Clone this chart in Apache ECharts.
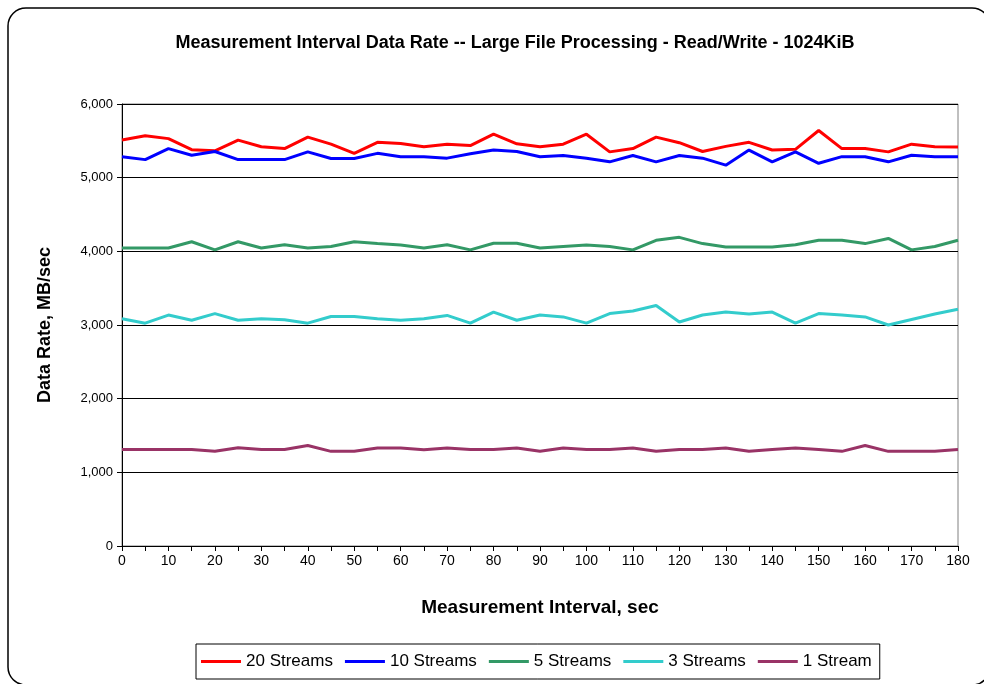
<!DOCTYPE html>
<html>
<head>
<meta charset="utf-8">
<title>Measurement Interval Data Rate</title>
<script src="https://cdn.jsdelivr.net/npm/echarts@6/dist/echarts.min.js"></script>
<style>
  html, body { margin: 0; padding: 0; background: #fff; }
  #chart { width: 984px; height: 684px; }
</style>
</head>
<body>
<div id="chart"></div>
<script>
// x axis: measurement interval (sec), one sample every 5 sec
const intervals = ['0', '5', '10', '15', '20', '25', '30', '35', '40', '45', '50', '55', '60', '65', '70', '75', '80', '85', '90',
  '95', '100', '105', '110', '115', '120', '125', '130', '135', '140', '145', '150', '155', '160', '165', '170', '175', '180']

// data rate, MB/sec
const streams20 = [5510, 5570, 5530, 5380, 5365, 5510, 5420, 5395, 5550, 5455, 5330, 5480, 5465, 5420, 5455, 5435, 5590, 5460, 5420,
  5455, 5590, 5350, 5395, 5550, 5475, 5355, 5425, 5480, 5375, 5385, 5640, 5395, 5395, 5350, 5455, 5420, 5415]
const streams10 = [5285, 5245, 5395, 5305, 5355, 5245, 5245, 5245, 5350, 5260, 5260, 5330, 5285, 5285, 5265, 5325, 5375, 5355, 5285,
  5300, 5265, 5215, 5300, 5215, 5300, 5265, 5170, 5375, 5215, 5350, 5195, 5285, 5285, 5215, 5305, 5285, 5285]
const streams5 = [4045, 4045, 4045, 4130, 4020, 4130, 4045, 4090, 4045, 4065, 4130, 4105, 4085, 4045, 4090, 4020, 4110, 4110, 4045,
  4065, 4085, 4065, 4020, 4150, 4190, 4105, 4060, 4060, 4060, 4090, 4150, 4150, 4105, 4175, 4020, 4065, 4150]
const streams3 = [3085, 3025, 3135, 3065, 3155, 3065, 3085, 3070, 3025, 3115, 3115, 3085, 3065, 3085, 3130, 3025, 3175, 3065, 3135,
  3110, 3025, 3155, 3190, 3265, 3040, 3135, 3175, 3150, 3175, 3025, 3155, 3135, 3110, 3000, 3075, 3150, 3215]
const streams1 = [1310, 1310, 1310, 1310, 1285, 1335, 1310, 1310, 1365, 1285, 1285, 1330, 1330, 1305, 1330, 1310, 1310, 1330, 1285,
  1330, 1310, 1310, 1330, 1285, 1310, 1310, 1330, 1285, 1310, 1330, 1310, 1285, 1365, 1285, 1285, 1285, 1310]

const seriesNames = ['20 Streams', '10 Streams', '5 Streams', '3 Streams', '1 Stream']
const seriesColors = ['#ff0000', '#0000ff', '#339966', '#33cccc', '#993366']
const seriesData = [streams20, streams10, streams5, streams3, streams1]

const font = 'Arial, "Liberation Sans", sans-serif'

const chart = echarts.init(document.getElementById('chart'))

const option = {
  backgroundColor: '#fff',
  animation: false,
  textStyle: { fontFamily: font, color: '#000' },
  title: {
    text: 'Measurement Interval Data Rate -- Large File Processing - Read/Write - 1024KiB',
    left: 510,
    textAlign: 'center',
    top: 29,
    textStyle: { fontFamily: font, fontSize: 18, fontWeight: 'bold', color: '#000' }
  },
  // rounded outer frame of the chart sheet
  graphic: [{
    type: 'rect',
    silent: true,
    z: -1,
    shape: { x: 8, y: 8, width: 982, height: 677, r: 18 },
    style: { fill: 'none', stroke: '#000', lineWidth: 1.5 }
  }],
  grid: {
    left: 122,
    right: 26,
    top: 104,
    bottom: 138,
    show: true,
    borderColor: '#808080',
    borderWidth: 1
  },
  legend: {
    data: seriesNames,
    left: 196,
    top: 644,
    padding: [9, 8, 9, 5],
    borderColor: '#000',
    borderWidth: 1,
    icon: 'rect',
    itemWidth: 40,
    itemHeight: 3,
    itemGap: 12,
    textStyle: { fontFamily: font, fontSize: 17, color: '#000' }
  },
  xAxis: {
    type: 'category',
    data: intervals,
    boundaryGap: false,
    name: 'Measurement Interval, sec',
    nameLocation: 'middle',
    nameGap: 52,
    nameTextStyle: { fontFamily: font, fontSize: 19, fontWeight: 'bold', color: '#000' },
    axisLine: { lineStyle: { color: '#000', width: 1 } },
    axisTick: { show: true, interval: 0, length: 5, lineStyle: { color: '#000' } },
    axisLabel: { interval: 1, fontSize: 14, color: '#000', margin: 8 },
    splitLine: { show: false }
  },
  yAxis: {
    type: 'value',
    min: 0,
    max: 6000,
    interval: 1000,
    name: 'Data Rate, MB/sec',
    nameLocation: 'middle',
    nameGap: 68,
    nameRotate: 90,
    nameTextStyle: { fontFamily: font, fontSize: 18, fontWeight: 'bold', color: '#000' },
    axisLine: { show: true, lineStyle: { color: '#000', width: 1 } },
    axisTick: { show: true, length: 5, lineStyle: { color: '#000' } },
    axisLabel: {
      fontSize: 13,
      color: '#000',
      margin: 9,
      formatter: v => v.toLocaleString('en-US')
    },
    splitLine: { show: true, lineStyle: { color: '#000', width: 1 } }
  },
  series: seriesNames.map((name, i) => ({
    name: name,
    type: 'line',
    data: seriesData[i],
    symbol: 'none',
    color: seriesColors[i],
    lineStyle: { width: 3, color: seriesColors[i] }
  }))
}

chart.setOption(option)
</script>
</body>
</html>
